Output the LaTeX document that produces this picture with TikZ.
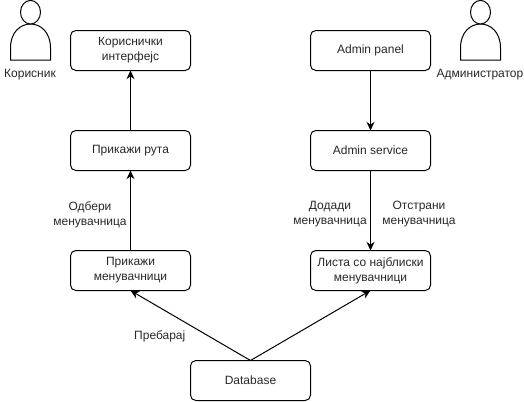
\documentclass[tikz,border=0pt]{standalone}
\usepackage{fontspec}
\setmainfont{Liberation Sans}
\usetikzlibrary{arrows.meta, positioning}
\definecolor{textcolor}{RGB}{40,40,40}

\begin{document}
\begin{tikzpicture}[
    x=0.75pt, y=-0.75pt,
    node distance=45pt and 90pt,
    every node/.style={text=textcolor},
    box/.style={draw, rounded corners=4pt, minimum width=90pt, minimum height=30pt,
                outer sep=0pt, inner sep=1pt, line width=0.75pt, font=\fontsize{9}{11.25}\selectfont,
                align=center, fill=white},
    arrow/.style={-{Stealth[length=6.5pt, width=6pt]}, line width=0.75pt},
    edgelabel/.style={font=\fontsize{9}{11.25}\selectfont, align=center, inner sep=2.5pt},
    person/.pic={
      \draw[line width=0.75pt, fill=white] (-20,60) -- (-20,48)
        .. controls (-20,32) and (-10,24) .. (0,24)
        .. controls (10,24) and (20,32) .. (20,48) -- (20,60) -- cycle;
      \draw[line width=0.75pt, fill=white] (0,12.2) ellipse (10 and 11.8);
    }
  ]
    \useasboundingbox (0,0) rectangle (524,401);

    %% Left column
    \node[box] (ui) at (130.5,50.5) {Кориснички\\интерфејс};
    \node[box, below=of ui] (route) {Прикажи рута};
    \node[box, below=60pt of route] (show) {Прикажи\\менувачници};

    %% Right column
    \node[box, right=of ui] (panel) {Admin panel};
    \node[box, below=of panel] (service) {Admin service};
    \node[box, below=60pt of service] (list) {Листа со најблиски\\менувачници};

    %% Database
    \node[box] (db) at (250.5,380.5) {Database};

    %% Actors
    \pic at (30.5,0) {person};
    \pic at (480.5,0) {person};
    \node[edgelabel] (user) at (30,75) {Корисник};
    \node[edgelabel] (admin) at (480,75) {Администратор};

    %% Arrows left
    \draw[arrow] (db.north) -- node[pos=0.5, below left, edgelabel, xshift=-1pt, yshift=-1pt] (search) {Пребарај} (show.south);
    \draw[arrow] (show) -- node[pos=0.45, left, edgelabel] (pick) {Одбери\\менувачница} (route);
    \draw[arrow] (route) -- (ui);

    %% Arrows right
    \draw[arrow] (db.north) -- (list.south);
    \draw[arrow] (panel) -- (service);
    \draw[arrow] (service) -- node[pos=0.55, left, edgelabel] (add) {Додади\\менувачница}
                                node[pos=0.55, right, edgelabel, xshift=6pt] (remove) {Отстрани\\менувачница} (list);
  \end{tikzpicture}
\end{document}
